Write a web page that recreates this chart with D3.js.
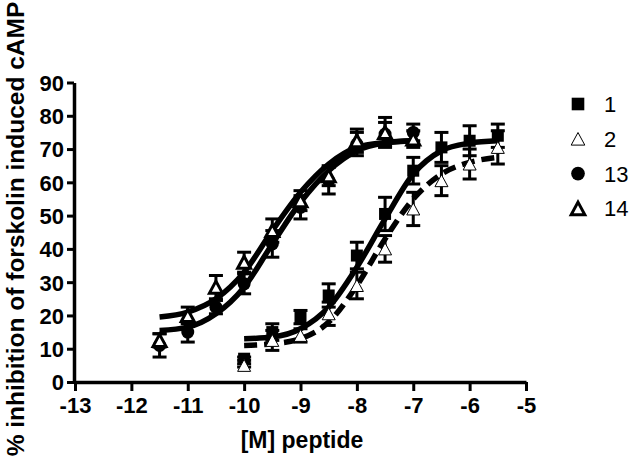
<!DOCTYPE html>
<html>
<head>
<meta charset="utf-8">
<script src="https://cdn.jsdelivr.net/npm/d3@7"></script>
<style>
  html, body { margin: 0; padding: 0; background: #fff; }
  svg { display: block; }
  text { font-family: "Liberation Sans", Arial, sans-serif; }
</style>
</head>
<body>
<svg id="chart" width="641" height="465"></svg>
<script>
// ---- data ----
const seriesNames = ["1", "2", "13", "14"];
const concLow = [-11.5, -11, -10.5, -10, -9.5, -9, -8.5, -8, -7.5, -7];   // peptides 13, 14
const concHigh = [-10, -9.5, -9, -8.5, -8, -7.5, -7, -6.5, -6, -5.5];     // peptides 1, 2

const mean1  = [7, 15, 19.5, 26, 38, 50.5, 63.5, 70.5, 72.5, 74];
const err1   = [0.5, 2.5, 2, 3.5, 4, 5, 4, 4.5, 4.5, 3.5];
const mean2  = [5, 12.5, 14, 20.5, 29, 40, 52, 60.5, 65.5, 70.5];
const err2   = [0.5, 3, 2, 3.5, 4, 4, 5, 4.5, 4.5, 5];
const mean13 = [11, 15, 22.5, 29.5, 41.5, 52.5, 60.5, 71.5, 74.5, 75];
const err13  = [3.5, 3, 2, 3, 4, 3.5, 4, 3.5, 3.5, 2.5];
const mean14 = [12.5, 20, 28.5, 36, 45.5, 54.5, 62, 72.5, 75, 73];
const err14  = [2, 2.5, 3.5, 3, 3.5, 3, 3, 3.5, 4.5, 2.5];

// fitted curves at each concentration
const fit1  = [13, 13.5, 16, 22.5, 34.5, 49, 62.5, 69.5, 71.8, 72.5];
const fit2  = [11, 11.5, 13, 18, 29, 43, 55, 62.5, 66, 67.5];
const fit13 = [15.5, 16.5, 20.5, 28.5, 41.5, 54, 63.5, 69.5, 71.8, 72.5];
const fit14 = [19.5, 21, 25, 33, 45.5, 57, 65.5, 70.5, 72, 72.5];

const xTicks = [-13, -12, -11, -10, -9, -8, -7, -6, -5];
const yTicks = [0, 10, 20, 30, 40, 50, 60, 70, 80, 90];
const xTitle = "[M] peptide";
const yTitle = "% inhibition of forskolin induced cAMP";

// ---- build ----
const series = [
  { name: "1",  x: concHigh, m: mean1,  e: err1,  fit: fit1,  marker: "square",  dashed: false },
  { name: "2",  x: concHigh, m: mean2,  e: err2,  fit: fit2,  marker: "triThin", dashed: true  },
  { name: "13", x: concLow,  m: mean13, e: err13, fit: fit13, marker: "circle",  dashed: false },
  { name: "14", x: concLow,  m: mean14, e: err14, fit: fit14, marker: "triBold", dashed: false }
];

const svg = d3.select("#chart");
const x = d3.scaleLinear().domain([-13, -5]).range([75, 526]);
const y = d3.scaleLinear().domain([0, 90]).range([382, 82.5]);

function drawMarker(g, type, cx, cy, scale) {
  const s = scale || 1;
  if (type === "square") {
    const a = 12 * s;
    g.append("rect").attr("x", cx - a / 2).attr("y", cy - a / 2)
      .attr("width", a).attr("height", a).attr("fill", "#000");
  } else if (type === "circle") {
    g.append("circle").attr("cx", cx).attr("cy", cy).attr("r", 6.5 * s).attr("fill", "#000");
  } else {
    const w = 13 * s, h = 12 * s;
    const pts = [[cx, cy - h / 2], [cx + w / 2, cy + h / 2], [cx - w / 2, cy + h / 2]];
    g.append("polygon").attr("points", pts.map(p => p.join(",")).join(" "))
      .attr("fill", "#fff").attr("stroke", "#000")
      .attr("stroke-width", type === "triBold" ? 3 : 1)
      .attr("stroke-linejoin", "miter");
  }
}

// curves
const line = d3.line().x(d => x(d[0])).y(d => y(d[1])).curve(d3.curveMonotoneX);
const curveG = svg.append("g");
series.forEach(s => {
  curveG.append("path")
    .attr("d", line(s.x.map((v, i) => [v, s.fit[i]])))
    .attr("fill", "none").attr("stroke", "#000")
    .attr("stroke-width", 5.5)
    .attr("stroke-dasharray", s.dashed ? "13,7" : null);
});

// error bars and markers
const ptsG = svg.append("g");
series.forEach(s => {
  s.x.forEach((v, i) => {
    const cx = x(v), top = y(s.m[i] + s.e[i]), bot = y(s.m[i] - s.e[i]);
    const g = ptsG.append("g").attr("stroke", "#000").attr("stroke-width", 3);
    g.append("line").attr("x1", cx).attr("x2", cx).attr("y1", top).attr("y2", bot);
    g.append("line").attr("x1", cx - 7).attr("x2", cx + 7).attr("y1", top).attr("y2", top);
    g.append("line").attr("x1", cx - 7).attr("x2", cx + 7).attr("y1", bot).attr("y2", bot);
  });
});
series.forEach(s => {
  s.x.forEach((v, i) => drawMarker(ptsG, s.marker, x(v), y(s.m[i])));
});

// axes
const fmt = d => String(d);
const xAxis = svg.append("g").attr("transform", "translate(0,382)")
  .call(d3.axisBottom(x).tickValues(xTicks).tickFormat(fmt).tickSize(9).tickSizeOuter(0).tickPadding(6));
const yAxis = svg.append("g").attr("transform", "translate(74,0)")
  .call(d3.axisLeft(y).tickValues(yTicks).tickFormat(fmt).tickSize(7).tickSizeOuter(0).tickPadding(3));
[xAxis, yAxis].forEach(a => {
  a.selectAll("path.domain").attr("stroke", "#000").attr("stroke-width", 3.5);
  a.selectAll(".tick line").attr("stroke", "#000").attr("stroke-width", 3);
  a.selectAll(".tick text").attr("fill", "#000")
    .style("font-family", "'Liberation Sans', Arial, sans-serif")
    .style("font-size", "22px").style("font-weight", "bold");
});
xAxis.selectAll(".tick text").attr("dy", "0.72em");
yAxis.selectAll(".tick text").attr("dy", "0.36em");

// titles
svg.append("text").attr("x", 302).attr("y", 448).attr("text-anchor", "middle")
  .style("font-size", "23px").style("font-weight", "bold").text(xTitle);
svg.append("text").attr("transform", "translate(24,229) rotate(-90)").attr("text-anchor", "middle")
  .style("font-size", "24.5px").style("font-weight", "bold").text(yTitle);

// legend
const legG = svg.append("g");
series.forEach((s, i) => {
  const cy = 104 + i * 34.8;
  drawMarker(legG, s.marker, 578, cy, 1.05);
  legG.append("text").attr("x", 604).attr("y", cy).attr("dy", "0.36em")
    .style("font-size", "22px").text(s.name);
});
</script>
</body>
</html>
